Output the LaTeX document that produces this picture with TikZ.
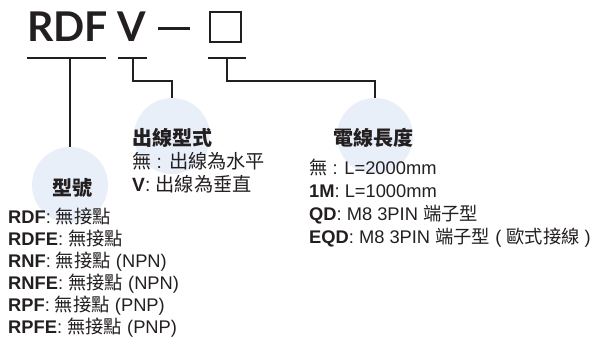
\documentclass[tikz,border=0pt]{standalone}
\usepackage{fontspec}
\setmainfont{Liberation Sans}
\newfontfamily\cjk{Noto Sans CJK TC}
\newfontfamily\titlefont{Lato}
\definecolor{ink}{HTML}{231F20}
\definecolor{bubble}{HTML}{E9EFF8}
\newcommand{\C}[1]{{\cjk #1}}
\begin{document}
\begin{tikzpicture}[x=1pt,y=-1pt,
  txt/.style={anchor=base west,inner sep=0pt,text=ink,font=\fontsize{18.3}{22}\selectfont},
  mtxt/.style={txt,font=\fontsize{19.2}{23}\selectfont},
  head/.style={anchor=center,inner sep=0pt,text=ink,font=\fontsize{20}{24}\selectfont\cjk\bfseries},
  ttl/.style={anchor=base west,inner sep=0pt,text=ink,font=\fontsize{41}{48}\selectfont\titlefont\bfseries},
  bub/.style={circle,fill=bubble,minimum size=76pt,inner sep=0pt},
  wire/.style={draw=ink,line width=1.2pt}]
\useasboundingbox (0,0) rectangle (592,337);
% bubbles
\node[bub] (b1) at (70,185) {};
\node[bub] (b2) at (172,136) {};
\node[bub] (b3) at (375,136) {};
% title
\node[ttl] (rdf) at (27,42) {RDF};
\node[ttl] (v) at (117,42) {V};
\draw[ink,line width=3.2pt] (158,28.5) -- (190,28.5);
\node[draw=ink,line width=2.6pt,minimum width=31pt,minimum height=30pt,inner sep=0pt] (box) at (225.5,27) {};
% underlines
\coordinate (u1a) at (27,58); \coordinate (u1b) at (106,58);
\coordinate (u2a) at (118,58); \coordinate (u2b) at (147,58);
\coordinate (u3a) at (208,58); \coordinate (u3b) at (246,58);
\draw[wire] (u1a) -- (u1b);
\draw[wire] (u2a) -- (u2b);
\draw[wire] (u3a) -- (u3b);
\coordinate (c1) at (70,58);
\coordinate (c2) at (133,58);
\coordinate (c3) at (227,58);
\draw[wire] (c1) -- (b1.north);
\draw[wire] (c2) |- (172,81) -- (b2.north);
\draw[wire] (c3) |- (375,81) -- (b3.north);
% headings
\node[head] (h1) at (72,188) {型號};
\node[head] (h2) at (172.5,138) {出線型式};
\node[head] (h3) at (373.5,138) {電線長度};
% middle
\node[mtxt] (m1) at (132,168) {\C{無} : \C{出線為水平}};
\node[mtxt] (m2) at (132,191) {\textbf{V}: \C{出線為垂直}};
% left list
\node[txt] (l1) at (8,223.5) {\textbf{RDF}: \C{無接點}};
\node[txt] (l2) at (8,245.5) {\textbf{RDFE}: \C{無接點}};
\node[txt] (l3) at (8,267.5) {\textbf{RNF}: \C{無接點} (NPN)};
\node[txt] (l4) at (8,289.5) {\textbf{RNFE}: \C{無接點} (NPN)};
\node[txt] (l5) at (8,311.5) {\textbf{RPF}: \C{無接點} (PNP)};
\node[txt] (l6) at (8,333) {\textbf{RPFE}: \C{無接點} (PNP)};
% right list
\node[txt] (r1) at (309,174.5) {\C{無} : L=2000mm};
\node[txt] (r2) at (309,197) {\textbf{1M}: L=1000mm};
\node[txt] (r3) at (309,220) {\textbf{QD}: M8 3PIN \C{端子型}};
\node[txt] (r4) at (309,243) {\textbf{EQD}: M8 3PIN \C{端子型} ( \C{歐式接線} )};
\end{tikzpicture}
\end{document}
